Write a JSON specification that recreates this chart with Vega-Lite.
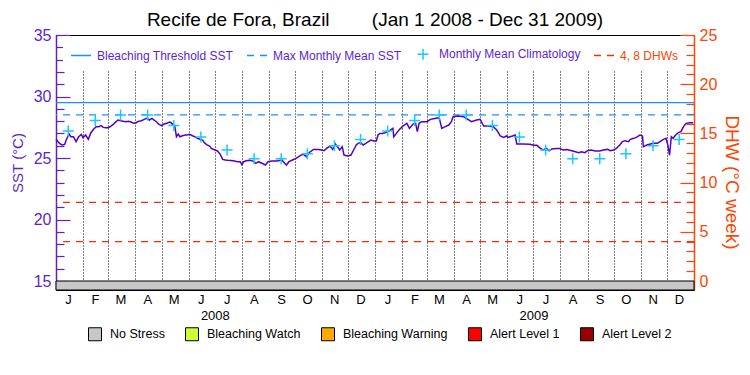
{
  "$schema": "https://vega.github.io/schema/vega-lite/v6.json",
  "width": 638,
  "height": 255,
  "autosize": "none",
  "padding": {"left": 56, "top": 35, "right": 56, "bottom": 85},
  "background": "white",
  "title": {
    "text": "Recife de Fora, Brazil\u00a0\u00a0\u00a0\u00a0\u00a0\u00a0\u00a0\u00a0(Jan 1 2008 - Dec 31 2009)",
    "fontSize": 19, "font": "Liberation Sans", "fontWeight": "normal", "color": "black",
    "offset": -3, "anchor": "middle", "frame": "group"
  },
  "config": {
    "view": {"stroke": "black", "strokeWidth": 1},
    "font": "Liberation Sans",
    "axis": {"labelFont": "Liberation Sans", "titleFont": "Liberation Sans", "grid": false},
    "legend": {"labelFont": "Liberation Sans"}
  },
  "datasets": {
    "sst": [
      {"date":"2008-01-01","sst":26.52},{"date":"2008-01-05","sst":26.19},{"date":"2008-01-08","sst":26.06},{"date":"2008-01-11","sst":26.11},
      {"date":"2008-01-13","sst":26.52},{"date":"2008-01-16","sst":26.95},{"date":"2008-01-18","sst":26.73},{"date":"2008-01-21","sst":26.73},
      {"date":"2008-01-24","sst":26.33},{"date":"2008-01-27","sst":26.73},{"date":"2008-01-30","sst":26.92},{"date":"2008-02-01","sst":26.65},
      {"date":"2008-02-04","sst":26.87},{"date":"2008-02-07","sst":26.52},{"date":"2008-02-10","sst":27.06},{"date":"2008-02-13","sst":27.33},
      {"date":"2008-02-16","sst":27.55},{"date":"2008-02-19","sst":27.55},{"date":"2008-02-22","sst":27.63},{"date":"2008-02-24","sst":27.49},
      {"date":"2008-02-27","sst":27.46},{"date":"2008-03-01","sst":27.46},{"date":"2008-03-04","sst":27.60},{"date":"2008-03-07","sst":27.76},
      {"date":"2008-03-09","sst":27.90},{"date":"2008-03-12","sst":28.09},{"date":"2008-03-15","sst":28.03},{"date":"2008-03-18","sst":27.98},
      {"date":"2008-03-21","sst":27.95},{"date":"2008-03-24","sst":27.98},{"date":"2008-03-27","sst":27.93},{"date":"2008-03-30","sst":27.82},
      {"date":"2008-04-02","sst":27.87},{"date":"2008-04-04","sst":27.98},{"date":"2008-04-08","sst":28.03},{"date":"2008-04-11","sst":28.14},
      {"date":"2008-04-14","sst":28.22},{"date":"2008-04-17","sst":28.09},{"date":"2008-04-20","sst":28.22},{"date":"2008-04-22","sst":28.09},
      {"date":"2008-04-25","sst":27.95},{"date":"2008-04-28","sst":27.74},{"date":"2008-05-01","sst":27.63},{"date":"2008-05-04","sst":27.76},
      {"date":"2008-05-07","sst":27.82},{"date":"2008-05-10","sst":27.93},{"date":"2008-05-12","sst":27.87},{"date":"2008-05-14","sst":27.68},
      {"date":"2008-05-16","sst":27.63},{"date":"2008-05-18","sst":26.73},{"date":"2008-05-20","sst":26.95},{"date":"2008-05-22","sst":26.73},
      {"date":"2008-05-25","sst":26.81},{"date":"2008-05-28","sst":26.87},{"date":"2008-05-30","sst":26.87},{"date":"2008-06-02","sst":26.92},
      {"date":"2008-06-06","sst":26.79},{"date":"2008-06-08","sst":26.73},{"date":"2008-06-11","sst":26.60},{"date":"2008-06-14","sst":26.52},
      {"date":"2008-06-17","sst":26.46},{"date":"2008-06-19","sst":26.25},{"date":"2008-06-22","sst":26.06},{"date":"2008-06-25","sst":25.97},
      {"date":"2008-06-27","sst":25.78},{"date":"2008-07-01","sst":25.65},{"date":"2008-07-04","sst":25.57},{"date":"2008-07-07","sst":25.32},
      {"date":"2008-07-10","sst":24.89},{"date":"2008-07-13","sst":24.84},{"date":"2008-07-16","sst":24.81},{"date":"2008-07-22","sst":24.78},
      {"date":"2008-07-27","sst":24.70},{"date":"2008-07-30","sst":24.70},{"date":"2008-08-01","sst":24.46},{"date":"2008-08-03","sst":24.70},
      {"date":"2008-08-06","sst":24.78},{"date":"2008-08-10","sst":24.82},{"date":"2008-08-14","sst":24.75},{"date":"2008-08-17","sst":24.57},
      {"date":"2008-08-20","sst":24.70},{"date":"2008-08-24","sst":24.57},{"date":"2008-08-28","sst":24.43},{"date":"2008-08-31","sst":24.70},
      {"date":"2008-09-04","sst":24.75},{"date":"2008-09-10","sst":24.75},{"date":"2008-09-16","sst":24.84},{"date":"2008-09-19","sst":24.57},
      {"date":"2008-09-21","sst":24.43},{"date":"2008-09-24","sst":24.70},{"date":"2008-09-28","sst":24.84},{"date":"2008-10-02","sst":24.97},
      {"date":"2008-10-06","sst":25.16},{"date":"2008-10-10","sst":25.32},{"date":"2008-10-14","sst":25.11},{"date":"2008-10-17","sst":25.43},
      {"date":"2008-10-22","sst":25.70},{"date":"2008-10-28","sst":25.70},{"date":"2008-10-31","sst":25.65},{"date":"2008-11-03","sst":25.59},
      {"date":"2008-11-06","sst":25.78},{"date":"2008-11-10","sst":25.97},{"date":"2008-11-13","sst":25.70},{"date":"2008-11-16","sst":26.14},
      {"date":"2008-11-18","sst":25.97},{"date":"2008-11-21","sst":25.65},{"date":"2008-11-24","sst":25.92},{"date":"2008-11-26","sst":25.24},
      {"date":"2008-11-30","sst":25.16},{"date":"2008-12-04","sst":25.24},{"date":"2008-12-07","sst":25.65},{"date":"2008-12-10","sst":26.06},
      {"date":"2008-12-12","sst":26.19},{"date":"2008-12-15","sst":26.25},{"date":"2008-12-18","sst":26.06},{"date":"2008-12-21","sst":26.19},
      {"date":"2008-12-24","sst":26.33},{"date":"2008-12-27","sst":26.46},{"date":"2008-12-30","sst":26.38},{"date":"2009-01-02","sst":26.38},
      {"date":"2009-01-04","sst":26.87},{"date":"2009-01-06","sst":27.00},{"date":"2009-01-09","sst":27.00},{"date":"2009-01-12","sst":27.06},
      {"date":"2009-01-15","sst":27.14},{"date":"2009-01-18","sst":27.27},{"date":"2009-01-21","sst":27.41},{"date":"2009-01-22","sst":26.73},
      {"date":"2009-01-25","sst":27.00},{"date":"2009-01-28","sst":27.27},{"date":"2009-01-31","sst":27.49},{"date":"2009-02-03","sst":27.68},
      {"date":"2009-02-06","sst":27.82},{"date":"2009-02-09","sst":27.41},{"date":"2009-02-13","sst":27.76},{"date":"2009-02-16","sst":27.82},
      {"date":"2009-02-18","sst":27.14},{"date":"2009-02-20","sst":27.82},{"date":"2009-02-23","sst":27.95},{"date":"2009-03-01","sst":27.95},
      {"date":"2009-03-05","sst":28.14},{"date":"2009-03-10","sst":28.22},{"date":"2009-03-15","sst":28.28},{"date":"2009-03-18","sst":27.41},
      {"date":"2009-03-22","sst":27.55},{"date":"2009-03-26","sst":27.68},{"date":"2009-03-29","sst":27.95},{"date":"2009-03-31","sst":28.36},
      {"date":"2009-04-06","sst":28.41},{"date":"2009-04-12","sst":28.36},{"date":"2009-04-17","sst":28.14},{"date":"2009-04-21","sst":27.95},
      {"date":"2009-04-27","sst":28.09},{"date":"2009-05-01","sst":28.14},{"date":"2009-05-05","sst":27.60},{"date":"2009-05-10","sst":27.60},
      {"date":"2009-05-16","sst":27.55},{"date":"2009-05-20","sst":27.27},{"date":"2009-05-24","sst":26.79},{"date":"2009-05-28","sst":26.68},
      {"date":"2009-05-31","sst":26.79},{"date":"2009-06-02","sst":26.68},{"date":"2009-06-07","sst":26.79},{"date":"2009-06-10","sst":26.87},
      {"date":"2009-06-12","sst":26.14},{"date":"2009-06-19","sst":26.14},{"date":"2009-06-27","sst":26.11},{"date":"2009-07-01","sst":26.03},
      {"date":"2009-07-05","sst":26.03},{"date":"2009-07-09","sst":25.78},{"date":"2009-07-12","sst":25.65},{"date":"2009-07-16","sst":25.78},
      {"date":"2009-07-19","sst":25.59},{"date":"2009-07-22","sst":25.73},{"date":"2009-07-28","sst":25.78},{"date":"2009-07-31","sst":25.78},
      {"date":"2009-08-04","sst":25.65},{"date":"2009-08-08","sst":25.70},{"date":"2009-08-14","sst":25.59},{"date":"2009-08-18","sst":25.51},
      {"date":"2009-08-22","sst":25.43},{"date":"2009-08-25","sst":25.51},{"date":"2009-08-29","sst":25.43},{"date":"2009-09-01","sst":25.59},
      {"date":"2009-09-05","sst":25.65},{"date":"2009-09-10","sst":25.57},{"date":"2009-09-15","sst":25.57},{"date":"2009-09-19","sst":25.65},
      {"date":"2009-09-24","sst":25.70},{"date":"2009-09-27","sst":25.59},{"date":"2009-10-01","sst":25.65},{"date":"2009-10-04","sst":25.78},
      {"date":"2009-10-08","sst":26.06},{"date":"2009-10-11","sst":26.33},{"date":"2009-10-14","sst":26.41},{"date":"2009-10-18","sst":26.33},
      {"date":"2009-10-20","sst":26.52},{"date":"2009-10-24","sst":26.60},{"date":"2009-10-27","sst":26.68},{"date":"2009-10-31","sst":26.87},
      {"date":"2009-11-03","sst":26.79},{"date":"2009-11-04","sst":25.92},{"date":"2009-11-08","sst":26.06},{"date":"2009-11-12","sst":26.14},
      {"date":"2009-11-15","sst":26.19},{"date":"2009-11-20","sst":26.19},{"date":"2009-11-23","sst":26.33},{"date":"2009-11-27","sst":26.52},
      {"date":"2009-11-30","sst":26.60},{"date":"2009-12-02","sst":26.06},{"date":"2009-12-04","sst":25.24},{"date":"2009-12-06","sst":26.73},
      {"date":"2009-12-08","sst":26.60},{"date":"2009-12-11","sst":26.87},{"date":"2009-12-14","sst":27.06},{"date":"2009-12-17","sst":27.14},
      {"date":"2009-12-20","sst":27.55},{"date":"2009-12-23","sst":27.82},{"date":"2009-12-27","sst":27.87},{"date":"2009-12-31","sst":27.87}
    ],
    "clim": [
      {"date":"2008-01-15","sst":27.2},{"date":"2008-02-15","sst":28.05},{"date":"2008-03-15","sst":28.5},{"date":"2008-04-15","sst":28.5},
      {"date":"2008-05-15","sst":27.65},{"date":"2008-06-15","sst":26.7},{"date":"2008-07-15","sst":25.65},{"date":"2008-08-15","sst":24.95},
      {"date":"2008-09-15","sst":24.95},{"date":"2008-10-15","sst":25.35},{"date":"2008-11-15","sst":26.0},{"date":"2008-12-15","sst":26.5},
      {"date":"2009-01-15","sst":27.2},{"date":"2009-02-15","sst":28.05},{"date":"2009-03-15","sst":28.5},{"date":"2009-04-15","sst":28.5},
      {"date":"2009-05-15","sst":27.65},{"date":"2009-06-15","sst":26.7},{"date":"2009-07-15","sst":25.65},{"date":"2009-08-15","sst":24.95},
      {"date":"2009-09-15","sst":24.95},{"date":"2009-10-15","sst":25.35},{"date":"2009-11-15","sst":26.0},{"date":"2009-12-15","sst":26.5}
    ],
    "levels": [{"sst": 29.5, "series": "Bleaching Threshold SST"}, {"sst": 28.5, "series": "Max Monthly Mean SST"}],
    "stress": [{"start":"2008-01-01","end":"2010-01-01","level":"No Stress"}],
    "dhw": [{"dhw":4,"series":"4, 8 DHWs"},{"dhw":8,"series":"4, 8 DHWs"}]
  },
  "layer": [
    {
      "encoding": {
        "y": {
          "type": "quantitative",
          "scale": {"domain": [14.27, 35], "nice": false, "zero": false},
          "axis": {
            "orient": "left",
            "values": [15,16,17,18,19,20,21,22,23,24,25,26,27,28,29,30,31,32,33,34,35],
            "labelExpr": "datum.value % 5 === 0 ? datum.label : ''",
            "title": "SST (°C)", "titleColor": "#5b1fd6", "titleFontSize": 15, "titleFontWeight": "normal", "titlePadding": 8,
            "labelColor": "#5b1fd6", "labelFontSize": 16, "labelPadding": 19, "labelFlush": false, "labelOverlap": false,
            "tickSize": {"condition": {"test": "datum.value % 5 === 0", "value": -14}, "value": -8},
            "tickColor": "#5b1fd6", "tickWidth": 1.2,
            "domainColor": "#5b1fd6", "domainWidth": 1.5, "grid": false
          }
        }
      },
      "layer": [
        {
          "data": {"name": "levels"},
          "mark": {"type": "rule", "strokeWidth": 1.2},
          "encoding": {
            "y": {"field": "sst"},
            "stroke": {
              "field": "series", "type": "nominal",
              "scale": {"domain": ["Bleaching Threshold SST","Max Monthly Mean SST","Monthly Mean Climatology","4, 8 DHWs"], "range": ["#1a90ff","#1a90ff","#19c8ff","#ff2a00"]},
              "legend": {
                "orient": "none", "legendX": 7, "legendY": 1, "direction": "horizontal", "title": null,
                "fillColor": "white", "padding": 7, "symbolSize": 400, "symbolStrokeWidth": 1.5,
                "labelFontSize": 12, "labelColor": "#5b1fd6", "labelOffset": 5, "columnPadding": 10,
                "encode": {"labels": {"update": {"fill": {"signal": "datum.value === '4, 8 DHWs' ? '#ff4400' : '#5b1fd6'"}}}}
              }
            },
            "strokeDash": {
              "field": "series", "type": "nominal",
              "scale": {"domain": ["Bleaching Threshold SST","Max Monthly Mean SST","Monthly Mean Climatology","4, 8 DHWs"], "range": [[1,0],[7,6],[1,0],[7,6]]}
            }
          }
        },
        {
          "data": {"name": "sst"},
          "mark": {"type": "line", "color": "#5200c8", "strokeWidth": 1.5},
          "encoding": {
            "x": {
              "field": "date", "type": "temporal",
              "scale": {"type": "utc", "domain": [{"year":2008,"month":1,"date":1,"utc":true},{"year":2010,"month":1,"date":1,"utc":true}]},
              "axis": {
                "orient": "bottom", "title": null,
                "values": [
                  {"year":2008,"month":1,"date":1,"utc":true},{"year":2008,"month":2,"date":1,"utc":true},{"year":2008,"month":3,"date":1,"utc":true},
                  {"year":2008,"month":4,"date":1,"utc":true},{"year":2008,"month":5,"date":1,"utc":true},{"year":2008,"month":6,"date":1,"utc":true},
                  {"year":2008,"month":7,"date":1,"utc":true},{"year":2008,"month":8,"date":1,"utc":true},{"year":2008,"month":9,"date":1,"utc":true},
                  {"year":2008,"month":10,"date":1,"utc":true},{"year":2008,"month":11,"date":1,"utc":true},{"year":2008,"month":12,"date":1,"utc":true},
                  {"year":2009,"month":1,"date":1,"utc":true},{"year":2009,"month":2,"date":1,"utc":true},{"year":2009,"month":3,"date":1,"utc":true},
                  {"year":2009,"month":4,"date":1,"utc":true},{"year":2009,"month":5,"date":1,"utc":true},{"year":2009,"month":6,"date":1,"utc":true},
                  {"year":2009,"month":7,"date":1,"utc":true},{"year":2009,"month":8,"date":1,"utc":true},{"year":2009,"month":9,"date":1,"utc":true},
                  {"year":2009,"month":10,"date":1,"utc":true},{"year":2009,"month":11,"date":1,"utc":true},{"year":2009,"month":12,"date":1,"utc":true}
                ],
                "labelExpr": "['J','F','M','A','M','J','J','A','S','O','N','D'][utcmonth(datum.value)]",
                "labelOffset": 12, "labelPadding": 3, "labelFontSize": 13, "labelColor": "black",
                "labelFlush": false, "labelOverlap": false, "labelAngle": 0,
                "ticks": false, "domain": true, "domainColor": "black",
                "grid": true, "gridColor": "black", "gridDash": [1, 2], "gridWidth": 1
              }
            },
            "y": {"field": "sst"}
          }
        },
        {
          "data": {"name": "clim"},
          "mark": {"type": "point", "filled": false, "size": 400, "strokeWidth": 1.5, "opacity": 1},
          "encoding": {
            "x": {
              "field": "date", "type": "temporal",
              "scale": {"type": "utc", "domain": [{"year":2008,"month":1,"date":1,"utc":true},{"year":2010,"month":1,"date":1,"utc":true}]},
              "axis": {
                "orient": "bottom", "title": null,
                "values": [
                  {"year":2008,"month":1,"date":1,"utc":true},{"year":2008,"month":2,"date":1,"utc":true},{"year":2008,"month":3,"date":1,"utc":true},
                  {"year":2008,"month":4,"date":1,"utc":true},{"year":2008,"month":5,"date":1,"utc":true},{"year":2008,"month":6,"date":1,"utc":true},
                  {"year":2008,"month":7,"date":1,"utc":true},{"year":2008,"month":8,"date":1,"utc":true},{"year":2008,"month":9,"date":1,"utc":true},
                  {"year":2008,"month":10,"date":1,"utc":true},{"year":2008,"month":11,"date":1,"utc":true},{"year":2008,"month":12,"date":1,"utc":true},
                  {"year":2009,"month":1,"date":1,"utc":true},{"year":2009,"month":2,"date":1,"utc":true},{"year":2009,"month":3,"date":1,"utc":true},
                  {"year":2009,"month":4,"date":1,"utc":true},{"year":2009,"month":5,"date":1,"utc":true},{"year":2009,"month":6,"date":1,"utc":true},
                  {"year":2009,"month":7,"date":1,"utc":true},{"year":2009,"month":8,"date":1,"utc":true},{"year":2009,"month":9,"date":1,"utc":true},
                  {"year":2009,"month":10,"date":1,"utc":true},{"year":2009,"month":11,"date":1,"utc":true},{"year":2009,"month":12,"date":1,"utc":true}
                ],
                "labelExpr": "['J','F','M','A','M','J','J','A','S','O','N','D'][utcmonth(datum.value)]",
                "labelOffset": 12, "labelPadding": 3, "labelFontSize": 13, "labelColor": "black",
                "labelFlush": false, "labelOverlap": false, "labelAngle": 0,
                "ticks": false, "domain": true, "domainColor": "black",
                "grid": true, "gridColor": "black", "gridDash": [1, 2], "gridWidth": 1
              }
            },
            "y": {"field": "sst"},
            "stroke": {"datum": "Monthly Mean Climatology", "type": "nominal"},
            "shape": {
              "datum": "Monthly Mean Climatology", "type": "nominal",
              "scale": {"domain": ["Bleaching Threshold SST","Max Monthly Mean SST","Monthly Mean Climatology","4, 8 DHWs"], "range": ["stroke","stroke","M-0.55,0L0.55,0M0,-0.55L0,0.55","stroke"]}
            }
          }
        }
      ]
    },
    {
      "encoding": {
        "y": {
          "type": "quantitative",
          "scale": {"domain": [-0.9125, 25], "nice": false, "zero": false},
          "axis": {
            "orient": "right",
            "values": [0,1,2,3,4,5,6,7,8,9,10,11,12,13,14,15,16,17,18,19,20,21,22,23,24,25],
            "labelExpr": "datum.value % 5 === 0 ? datum.label : ''",
            "title": "DHW (°C week)", "titleColor": "#ff4400", "titleFontSize": 19, "titleFontWeight": "normal", "titlePadding": 5,
            "titleY": 147,
            "labelColor": "#ff4400", "labelFontSize": 16, "labelPadding": 19, "labelFlush": false, "labelOverlap": false,
            "tickSize": {"condition": {"test": "datum.value % 5 === 0", "value": -14}, "value": -8},
            "tickColor": "#ff4400", "tickWidth": 1.2,
            "domainColor": "#ff4400", "domainWidth": 1.5, "grid": false
          }
        }
      },
      "layer": [
        {
          "data": {"name": "stress"},
          "mark": {"type": "rect", "stroke": "black", "strokeWidth": 1},
          "encoding": {
            "x": {
              "field": "start", "type": "temporal", "scale": {"type": "utc"},
              "axis": {
                "orient": "bottom", "title": null,
                "values": [{"year":2008,"month":7,"date":1,"utc":true},{"year":2009,"month":7,"date":1,"utc":true}],
                "labelExpr": "'' + utcyear(datum.value)",
                "offset": 17, "labelPadding": 2, "labelFontSize": 13, "labelColor": "black",
                "labelFlush": false, "labelOverlap": false, "labelAngle": 0,
                "ticks": false, "domain": false, "grid": false
              }
            },
            "x2": {"field": "end"},
            "y": {"datum": -0.9125},
            "y2": {"datum": 0},
            "fill": {
              "field": "level", "type": "nominal",
              "scale": {"domain": ["No Stress","Bleaching Watch","Bleaching Warning","Alert Level 1","Alert Level 2"], "range": ["#c8c8c8","#ccff33","#ffaa00","#ff0000","#990000"]},
              "legend": {
                "orient": "none", "legendX": 32, "legendY": 292, "direction": "horizontal", "title": null,
                "symbolType": "square", "symbolSize": 169, "symbolStrokeColor": "black", "symbolStrokeWidth": 1,
                "labelFontSize": 12.5, "labelColor": "black", "labelOffset": 8, "columnPadding": 18
              }
            }
          }
        },
        {
          "data": {"name": "dhw"},
          "mark": {"type": "rule", "strokeWidth": 1.2},
          "encoding": {
            "y": {"field": "dhw"},
            "stroke": {"field": "series", "type": "nominal"},
            "strokeDash": {"field": "series", "type": "nominal"}
          }
        }
      ]
    }
  ],
  "resolve": {"scale": {"y": "independent"}, "axis": {"x": "independent"}}
}
